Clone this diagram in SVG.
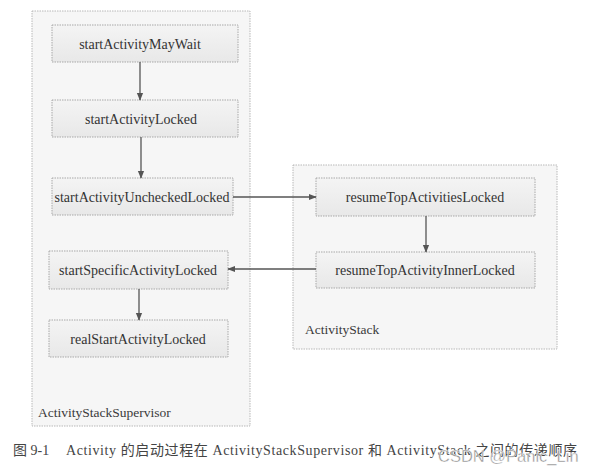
<svg xmlns="http://www.w3.org/2000/svg" width="594" height="474" viewBox="0 0 594 474">
<style>
.cont{fill:#f6f6f6;stroke:#b8b8b8;stroke-width:1;stroke-dasharray:1.5 1}
.box{fill:url(#g);stroke:#a8a8a8;stroke-width:1;stroke-dasharray:1.5 1}
.t{font-family:"Liberation Serif","Times New Roman",serif;font-size:14px;fill:#333;text-anchor:middle;dominant-baseline:central}
.lab{font-family:"Liberation Serif","Times New Roman",serif;font-size:13.5px;fill:#3a3a3a}
.edge{stroke:#555;stroke-width:1.3;fill:none;marker-end:url(#a)}
.cap{font-family:"Liberation Serif","Noto Sans CJK SC",serif;font-size:14px;fill:#444}
.wm{font-family:"Liberation Sans","Noto Sans",sans-serif;font-size:16.5px;fill:#8c8c8c;stroke:#fff;stroke-width:0.4}
</style>
<defs>
<linearGradient id="g" x1="0" y1="0" x2="0" y2="1">
<stop offset="0" stop-color="#f4f4f4"/>
<stop offset="1" stop-color="#e8e8e8"/>
</linearGradient>
<marker id="a" viewBox="0 0 10 10" refX="9" refY="5" markerWidth="8" markerHeight="8" markerUnits="userSpaceOnUse" orient="auto">
<path d="M0,1 L10,5 L0,9 Z" fill="#555"/>
</marker>
</defs>
<rect width="594" height="474" fill="#ffffff"/>
<g id="ActivityStackSupervisor">
<rect class="cont" x="32" y="11" width="218" height="415"/>
<text class="lab" x="38" y="417">ActivityStackSupervisor</text>
</g>
<g id="ActivityStack">
<rect class="cont" x="293" y="165" width="264" height="184"/>
<text class="lab" x="305" y="334">ActivityStack</text>
</g>
<g id="startActivityMayWait">
<rect class="box" x="52" y="25" width="186" height="37"/>
<text class="t" x="140" y="44">startActivityMayWait</text>
</g>
<g id="startActivityLocked">
<rect class="box" x="52" y="100" width="186" height="37"/>
<text class="t" x="141" y="119">startActivityLocked</text>
</g>
<g id="startActivityUncheckedLocked">
<rect class="box" x="52" y="178" width="181" height="37"/>
<text class="t" x="142" y="197">startActivityUncheckedLocked</text>
</g>
<g id="startSpecificActivityLocked">
<rect class="box" x="49" y="251" width="179" height="38"/>
<text class="t" x="138" y="270">startSpecificActivityLocked</text>
</g>
<g id="realStartActivityLocked">
<rect class="box" x="49" y="320" width="179" height="37"/>
<text class="t" x="138" y="339">realStartActivityLocked</text>
</g>
<g id="resumeTopActivitiesLocked">
<rect class="box" x="316" y="178" width="219" height="38"/>
<text class="t" x="425" y="197">resumeTopActivitiesLocked</text>
</g>
<g id="resumeTopActivityInnerLocked">
<rect class="box" x="316" y="252" width="219" height="36"/>
<text class="t" x="425" y="270">resumeTopActivityInnerLocked</text>
</g>
<g id="connectors">
<path class="edge" d="M140,62 V100"/>
<path class="edge" d="M141,137 V178"/>
<path class="edge" d="M233,197 H316"/>
<path class="edge" d="M426,216 V252"/>
<path class="edge" d="M316,269 H228"/>
<path class="edge" d="M139,289 V320"/>
</g>
<g id="caption">
<text class="cap" x="13" y="455">图 9-1</text>
<text class="cap" x="66" y="455" textLength="511" lengthAdjust="spacing">Activity 的启动过程在 ActivityStackSupervisor 和 ActivityStack 之间的传递顺序</text>
</g>
<text class="wm" x="438" y="462">CSDN @Panic_Lin</text>
</svg>
